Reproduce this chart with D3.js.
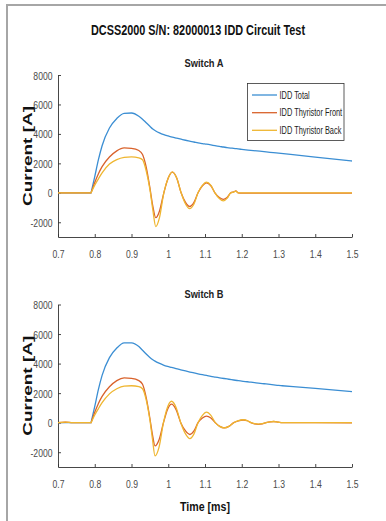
<!DOCTYPE html>
<html><head><meta charset="utf-8">
<script src="https://cdn.jsdelivr.net/npm/d3@7"></script>
<style>body{margin:0;background:#fff;} svg{display:block;} text{font-family:"Liberation Sans",Arial,sans-serif;}</style>
</head><body>
<script>
// ---------- data ----------
const seriesNames = ["IDD Total", "IDD Thyristor Front", "IDD Thyristor Back"];
const seriesColors = ["#3b8ed3", "#d9622b", "#efb630"];
const xTickValues = [0.7, 0.8, 0.9, 1.0, 1.1, 1.2, 1.3, 1.4, 1.5];
const xTickLabels = ["0.7", "0.8", "0.9", "1", "1.1", "1.2", "1.3", "1.4", "1.5"];
const yTickValues = [-2000, 0, 2000, 4000, 6000, 8000];
const yTickLabels = ["-2000", "0", "2000", "4000", "6000", "8000"];
const onsetTime = 0.79;

// Switch A
const timeA = [0.70,0.75,0.79,0.80,0.81,0.82,0.84,0.86,0.88,0.90,0.92,0.93,0.94,0.95,0.958,0.966,0.976,0.988,1.000,1.011,1.023,1.035,1.047,1.058,1.070,1.081,1.093,1.104,1.116,1.127,1.139,1.150,1.160,1.170,1.178,1.184,1.190,1.20,1.30,1.40,1.50];
const totalA = [0,0,0,1100,2250,3200,4400,5050,5400,5420,5200,5000,4760,4520,4330,4200,4070,3950,3860,3780,3710,3640,3570,3510,3450,3390,3340,3300,3250,3200,3150,3110,3070,3040,3020,3000,2980,2950,2690,2430,2160];
const frontA = [0,0,0,700,1300,1780,2430,2850,3050,3020,2870,2600,1750,350,-900,-1690,-1250,0,1000,1400,1000,0,-650,-930,-650,0,480,680,480,0,-320,-450,-320,0,60,130,0,-20,-20,-15,-20];
const backA  = [0,0,0,520,950,1350,1950,2250,2400,2440,2380,2250,1500,250,-1150,-2290,-1700,0,1000,1420,1000,0,-760,-1080,-760,0,500,720,500,0,-390,-550,-380,0,50,110,0,-10,-10,0,-10];

// Switch B
const timeB = [0.70,0.72,0.74,0.79,0.80,0.81,0.82,0.84,0.86,0.88,0.90,0.92,0.93,0.94,0.95,0.957,0.964,0.975,0.987,0.998,1.009,1.021,1.034,1.047,1.059,1.070,1.081,1.093,1.104,1.116,1.128,1.140,1.152,1.165,1.178,1.191,1.204,1.215,1.225,1.235,1.245,1.256,1.266,1.277,1.287,1.30,1.31,1.40,1.50];
const totalB = [0,0,0,0,1100,2250,3200,4400,5050,5400,5400,5150,4900,4650,4420,4280,4170,4030,3900,3810,3740,3660,3580,3500,3430,3370,3310,3250,3200,3140,3090,3040,2990,2940,2890,2840,2800,2770,2740,2710,2680,2650,2620,2590,2560,2520,2500,2320,2100];
const frontB = [0,30,0,0,700,1300,1780,2430,2850,3030,3000,2850,2600,1700,300,-800,-1570,-1150,0,900,1250,900,0,-560,-800,-560,0,320,450,320,0,-250,-350,-250,0,130,180,130,0,-80,-110,-80,0,60,80,30,0,0,-10];
const backB  = [0,40,0,0,520,950,1350,1950,2300,2480,2500,2440,2300,1550,200,-1100,-2250,-1650,0,1050,1450,1050,0,-760,-1080,-760,0,500,715,500,0,-250,-350,-250,0,140,200,140,0,-70,-100,-70,0,60,80,30,0,0,0];

// ---------- drawing ----------
const W = 386, H = 521;
const svg = d3.select("body").append("svg").attr("width", W).attr("height", H);

svg.append("line").attr("x1",7).attr("x2",7).attr("y1",4).attr("y2",H).attr("stroke","#a6a6a6").attr("stroke-width",2);
svg.append("line").attr("x1",6).attr("x2",W).attr("y1",5).attr("y2",5).attr("stroke","#a6a6a6").attr("stroke-width",2);

svg.append("text").attr("x",198).attr("y",35).attr("text-anchor","middle")
  .attr("font-size",14).attr("font-weight","bold").attr("fill","#111")
  .attr("textLength",214).attr("lengthAdjust","spacingAndGlyphs")
  .text("DCSS2000 S/N: 82000013 IDD Circuit Test");

const x = d3.scaleLinear().domain([0.7, 1.5]).range([58, 352]);
const sx = 0.75;

function panel(name, top, bottom, time, vals, withLegend, titleY) {
  const y = d3.scaleLinear().domain([-3000, 8000]).range([bottom, top]);
  const g = svg.append("g");

  g.append("text").attr("x",204).attr("y",titleY).attr("text-anchor","middle")
    .attr("font-size",11.5).attr("font-weight","bold").attr("fill","#222")
    .attr("textLength",39).attr("lengthAdjust","spacingAndGlyphs").text(name);

  g.append("text").attr("transform",`translate(31.5,${(top+bottom)/2}) rotate(-90)`)
    .attr("text-anchor","middle").attr("font-size",13).attr("font-weight","bold").attr("fill","#111")
    .attr("textLength",100).attr("lengthAdjust","spacingAndGlyphs").text("Current [A]");

  const xa = g.append("g").attr("transform",`translate(0,${bottom})`)
    .call(d3.axisBottom(x).tickValues(xTickValues).tickFormat((d,i)=>xTickLabels[i]).tickSizeInner(-3).tickSizeOuter(0));
  xa.selectAll("text").attr("y",21.5).attr("dy",0).attr("transform",`scale(${sx},1)`)
    .attr("font-size",11.5).attr("fill","#4a4a4a").attr("font-family",null);
  const ya = g.append("g").attr("transform","translate(58,0)")
    .call(d3.axisLeft(y).tickValues(yTickValues).tickFormat((d,i)=>yTickLabels[i]).tickSizeInner(-3).tickSizeOuter(0));
  ya.selectAll("text").attr("x",-5.5/sx).attr("dy","0.35em").attr("transform",`scale(${sx},1)`)
    .attr("font-size",11.5).attr("fill","#4a4a4a").attr("font-family",null);
  [xa, ya].forEach(a => {
    a.select(".domain").attr("stroke","#333").attr("stroke-width",0.9);
    a.selectAll(".tick line").attr("stroke","#333").attr("stroke-width",0.9);
  });

  const line = d3.line().x(d => x(d[0])).y(d => y(d[1])).curve(d3.curveMonotoneX);
  const split = time.indexOf(onsetTime);
  vals.forEach((v, k) => {
    const pts = time.map((t,i)=>[t, v[i]]);
    const d = line(pts.slice(0, split+1)) + line(pts.slice(split)).replace(/^M/, "L");
    g.append("path").attr("d", d).attr("fill","none").attr("stroke", seriesColors[k])
      .attr("stroke-width",1.3).attr("stroke-linejoin","round");
  });

  if (withLegend) {
    const lg = g.append("g");
    lg.append("rect").attr("x",247.5).attr("y",83.5).attr("width",96.5).attr("height",57)
      .attr("fill","#fff").attr("stroke","#333").attr("stroke-width",0.8);
    const rowsY = [95, 112.7, 130.3];
    seriesNames.forEach((n, k) => {
      lg.append("line").attr("x1",252).attr("x2",277).attr("y1",rowsY[k]).attr("y2",rowsY[k])
        .attr("stroke",seriesColors[k]).attr("stroke-width",1.3);
      lg.append("text").attr("transform",`translate(279.5,${rowsY[k]+3.6}) scale(0.74,1)`)
        .attr("font-size",10).attr("fill","#222").text(n);
    });
  }
}

panel("Switch A", 75, 237, timeA, [totalA, frontA, backA], true, 66.5);
panel("Switch B", 304.5, 467, timeB, [totalB, frontB, backB], false, 297.5);

svg.append("text").attr("x",205).attr("y",511).attr("text-anchor","middle")
  .attr("font-size",13).attr("font-weight","bold").attr("fill","#111")
  .attr("textLength",50).attr("lengthAdjust","spacingAndGlyphs").text("Time [ms]");
</script>
</body></html>
